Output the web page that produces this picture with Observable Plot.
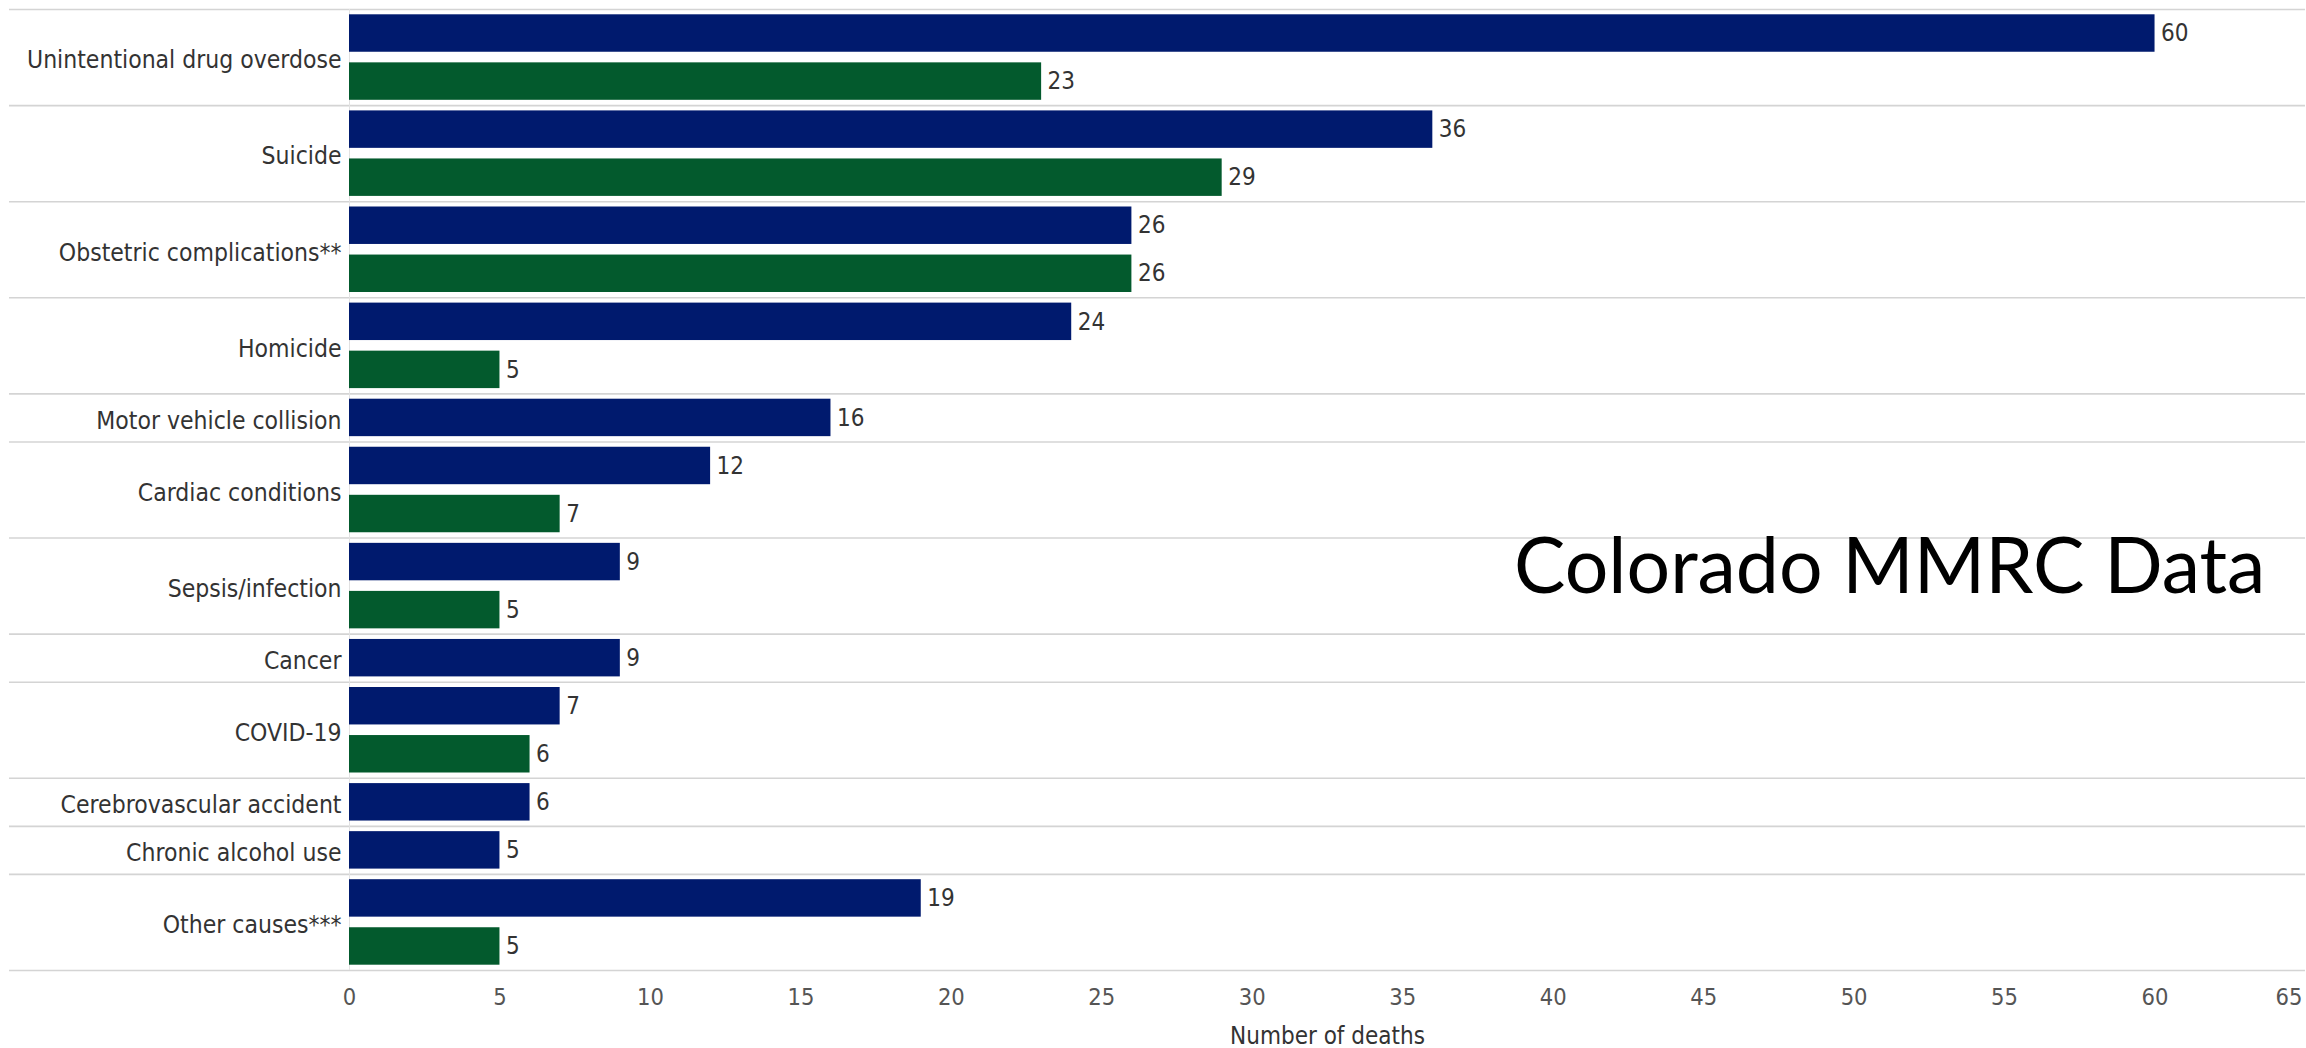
<!DOCTYPE html>
<html>
<head>
<meta charset="utf-8">
<script src="https://cdn.jsdelivr.net/npm/d3@7"></script>
<script src="https://cdn.jsdelivr.net/npm/@observablehq/plot@0.6"></script>
<style>
  html, body { margin: 0; padding: 0; background: #fff; }
  #wrap { position: relative; width: 2306px; height: 1048px; overflow: hidden; }
  #stamp {
    position: absolute; left: 1514px; top: 525px;
    font-family: Lato, "Open Sans", sans-serif; font-size: 77px; line-height: 1;
    color: #000; white-space: nowrap;
  }
</style>
</head>
<body>
<div id="wrap">
  <div id="chart"></div>
  <div id="stamp">Colorado MMRC Data</div>
</div>
<script>
// Leading causes of death, two series per cause (null = no bar shown)
const causes = [
  "Unintentional drug overdose",
  "Suicide",
  "Obstetric complications**",
  "Homicide",
  "Motor vehicle collision",
  "Cardiac conditions",
  "Sepsis/infection",
  "Cancer",
  "COVID-19",
  "Cerebrovascular accident",
  "Chronic alcohol use",
  "Other causes***"
];
const associated = [60, 36, 26, 24, 16, 12, 9, 9, 7, 6, 5, 19];
const related    = [23, 29, 26, 5, null, 7, 5, null, 6, null, null, 5];
const xTicks = [0, 5, 10, 15, 20, 25, 30, 35, 40, 45, 50, 55, 60, 65];

const BLUE = "#001a6e";
const GREEN = "#035a2d";
const FONT = '"DejaVu Sans Condensed", "Liberation Sans Narrow", "DejaVu Sans", sans-serif';

// Lay the bars out one row per bar; each cause occupies one or two rows.
const bars = [];
const groups = [];
let row = 0;
causes.forEach((cause, i) => {
  const start = row;
  bars.push({cause, series: "associated", value: associated[i], row: row++});
  if (related[i] != null) bars.push({cause, series: "related", value: related[i], row: row++});
  groups.push({cause, start, end: row, mid: (start + row) / 2});
});
const totalRows = row;
const boundaries = [0, ...groups.map(g => g.end)];

const marginLeft = 349;
const width = 2306;
const height = 1048;

const chart = Plot.plot({
  width,
  height,
  marginTop: 9,
  marginBottom: 78,
  marginLeft,
  marginRight: 1,
  style: {fontFamily: FONT, fontSize: "24px", color: "#333", background: "#fff"},
  x: {domain: [0, 65], label: null},
  y: {domain: [0, totalRows], reverse: true, axis: null},
  marks: [
    // row separators, running across the label column too
    Plot.ruleY(boundaries, {y: d => d, stroke: "#d4d4d4", strokeWidth: 1.6, insetLeft: -(marginLeft - 9)}),
    Plot.ruleX([0], {stroke: "#e2e2e2", strokeWidth: 1}),
    Plot.rect(bars, {
      x1: 0, x2: "value", y1: "row", y2: d => d.row + 1,
      insetTop: 5.3, insetBottom: 5.3,
      fill: d => d.series === "associated" ? BLUE : GREEN
    }),
    Plot.text(bars, {
      x: "value", y: d => d.row + 0.5, text: d => String(d.value),
      textAnchor: "start", dx: 6, fill: "#333", fontSize: 24
    }),
    Plot.text(groups, {
      x: 0, y: "mid", text: "cause",
      textAnchor: "end", dx: -8, dy: 3, fill: "#333", fontSize: 24.5
    }),
    Plot.axisX(xTicks.slice(0, -1), {
      tickSize: 0, tickPadding: 18, fontSize: 23.5, color: "#555", label: null
    }),
    Plot.axisX(xTicks.slice(-1), {
      tickSize: 0, tickPadding: 18, fontSize: 23.5, color: "#555", label: null,
      textAnchor: "end", dx: -3
    }),
    Plot.text(["Number of deaths"], {
      x: () => 32.5, frameAnchor: "bottom", dy: 73, fill: "#333", fontSize: 24
    })
  ]
});

document.getElementById("chart").appendChild(chart);
</script>
</body>
</html>
